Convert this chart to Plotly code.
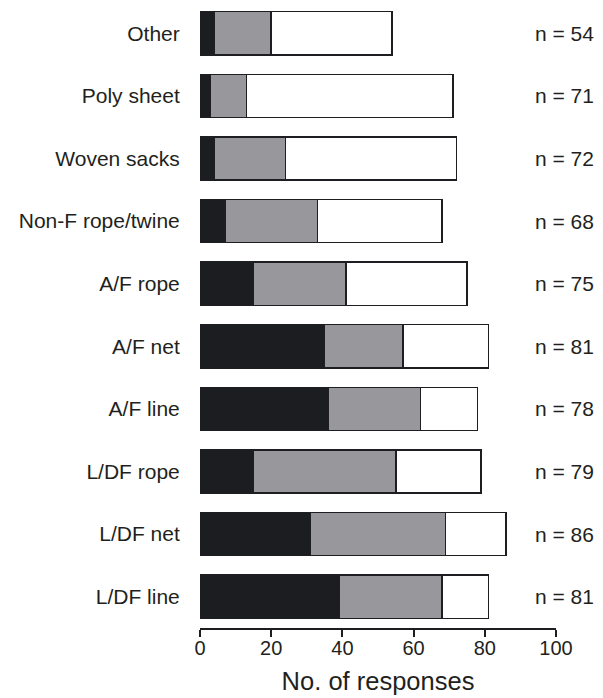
import plotly.graph_objects as go

categories = ["Other", "Poly sheet", "Woven sacks", "Non-F rope/twine", "A/F rope",
              "A/F net", "A/F line", "L/DF rope", "L/DF net", "L/DF line"]
black_vals = [4, 3, 4, 7, 15, 35, 36, 15, 31, 39]
grey_vals = [16, 10, 20, 26, 26, 22, 26, 40, 38, 29]
white_vals = [34, 58, 48, 35, 34, 24, 16, 24, 17, 13]
n_vals = [54, 71, 72, 68, 75, 81, 78, 79, 86, 81]
x_ticks = [0, 20, 40, 60, 80, 100]

FONT = "Liberation Sans, Arial, Helvetica, sans-serif"
EDGE = "#1d1e21"
TXT = "#231f20"

fig = go.Figure()
for vals, col in [(black_vals, "#1c1d21"), (grey_vals, "#98979b"), (white_vals, "#ffffff")]:
    fig.add_trace(go.Bar(
        y=categories, x=vals, orientation="h", width=0.69,
        marker=dict(color=col, line=dict(color=EDGE, width=1.5)),
        showlegend=False, hoverinfo="skip"))

for cat, n in zip(categories, n_vals):
    fig.add_annotation(x=1.113, xref="paper", y=cat, yref="y", text=f"n = {n}",
                       showarrow=False, xanchor="right", yanchor="middle",
                       font=dict(family=FONT, size=21, color=TXT))

fig.update_layout(
    barmode="stack", width=603, height=698,
    margin=dict(l=200, r=47, t=2, b=70),
    plot_bgcolor="white", paper_bgcolor="white",
    font=dict(family=FONT, color=TXT),
    xaxis=dict(range=[0, 100], tickvals=x_ticks, ticks="outside", ticklen=7, tickwidth=1.5,
               tickcolor=EDGE, showline=True, linecolor=EDGE, linewidth=1.5,
               showgrid=False, zeroline=False, automargin=False, ticklabelstandoff=-6,
               tickfont=dict(size=20, family=FONT, color=TXT),
               title=dict(text="No. of responses", font=dict(size=25.5, family=FONT, color=TXT),
                          standoff=14)),
    yaxis=dict(range=[9.5, -0.5], type="category", showgrid=False, zeroline=False,
               showline=False, ticks="outside", ticklen=15, tickcolor="rgba(0,0,0,0)",
               automargin=False, tickfont=dict(size=21, family=FONT, color=TXT)),
)

fig.write_html("out.html", config={"displayModeBar": False},
               post_script="document.body.style.margin='0';document.body.style.overflow='hidden';")
